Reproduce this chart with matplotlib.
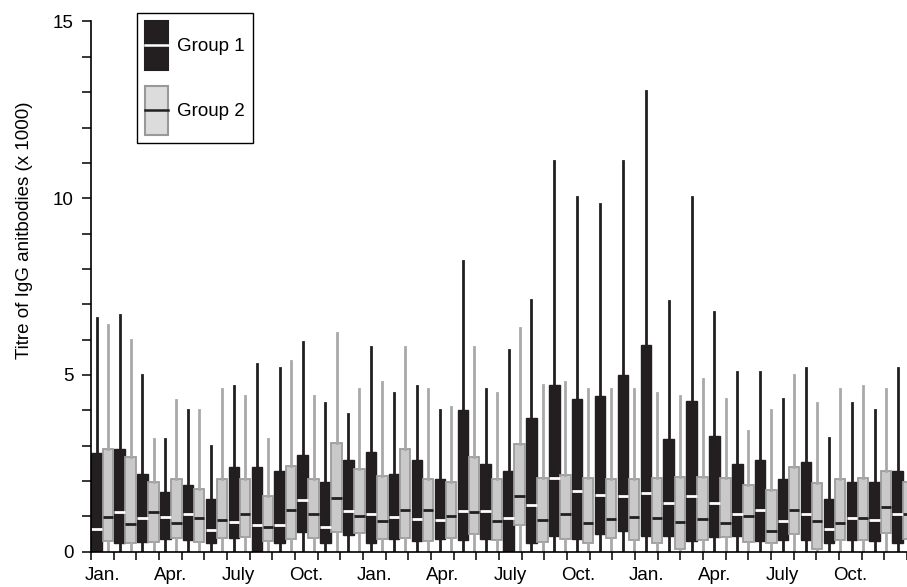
import matplotlib.pyplot as plt
from matplotlib.patches import Rectangle
from matplotlib.lines import Line2D
from matplotlib.legend_handler import HandlerBase
from matplotlib.ticker import MultipleLocator, FixedLocator

plt.rcParams['font.family'] = ['Liberation Sans', 'DejaVu Sans']

month_labels = ['Jan.', 'Apr.', 'July', 'Oct.'] * 3

# Group 1 (black boxes), one value per month, 3 years
g1_hi = [6.62, 6.7, 5.0, 3.2, 4.0, 3.0, 4.7, 5.3, 5.19, 5.92, 4.2, 3.9,
         5.8, 4.48, 4.7, 4.0, 8.23, 4.6, 5.7, 7.12, 11.04, 10.03, 9.83, 11.04,
         13.04, 7.1, 10.03, 6.79, 5.09, 5.09, 4.31, 5.19, 3.21, 4.22, 4.0, 5.19]
g1_q3 = [2.80, 2.92, 2.19, 1.69, 1.9, 1.48, 2.4, 2.4, 2.29, 2.74, 1.98, 2.59,
         2.83, 2.19, 2.59, 2.07, 4.0, 2.48, 2.29, 3.79, 4.72, 4.31, 4.41, 5.0,
         5.85, 3.19, 4.25, 3.28, 2.48, 2.59, 2.05, 2.55, 1.48, 1.98, 1.98, 2.29]
g1_med = [0.64, 1.11, 0.94, 0.97, 1.08, 0.61, 0.83, 0.77, 0.77, 1.46, 0.71, 1.16,
          1.08, 0.97, 0.92, 0.90, 1.16, 1.16, 0.96, 1.32, 2.08, 1.72, 1.60, 1.58,
          1.67, 1.37, 1.58, 1.37, 1.07, 1.18, 0.88, 1.08, 0.64, 0.96, 0.90, 1.08]
g1_q1 = [0.02, 0.25, 0.28, 0.35, 0.33, 0.24, 0.40, 0.0, 0.24, 0.55, 0.26, 0.47,
         0.24, 0.35, 0.30, 0.35, 0.33, 0.35, 0.0, 0.26, 0.44, 0.35, 0.49, 0.58,
         0.45, 0.45, 0.31, 0.41, 0.45, 0.31, 0.33, 0.33, 0.25, 0.33, 0.30, 0.24]

# Group 2 (grey boxes)
g2_hi = [6.4, 6.0, 3.2, 4.3, 4.0, 4.6, 4.4, 3.2, 5.4, 4.4, 6.2, 4.6,
         4.81, 5.8, 4.6, 4.1, 5.8, 4.5, 6.32, 4.72, 4.81, 4.59, 4.59, 4.59,
         4.5, 4.41, 4.9, 4.31, 3.42, 4.0, 5.0, 4.22, 4.59, 4.7, 4.59, 4.22]
g2_q3 = [2.9, 2.69, 1.98, 2.07, 1.77, 2.06, 2.05, 1.58, 2.43, 2.07, 3.08, 2.33,
         2.14, 2.9, 2.06, 1.98, 2.69, 2.06, 3.04, 2.08, 2.17, 2.08, 2.06, 2.06,
         2.08, 2.12, 2.12, 2.08, 1.89, 1.76, 2.39, 1.93, 2.05, 2.09, 2.29, 1.98]
g2_med = [0.97, 0.78, 1.13, 0.80, 0.94, 0.9, 1.08, 0.71, 1.18, 1.08, 1.51, 1.01,
          0.88, 1.18, 1.18, 1.02, 1.11, 0.87, 1.58, 0.90, 1.08, 0.80, 0.92, 0.97,
          0.94, 0.83, 0.92, 0.82, 1.01, 0.59, 1.18, 0.88, 0.80, 0.96, 1.27, 1.08]
g2_q1 = [0.30, 0.25, 0.28, 0.38, 0.28, 0.38, 0.42, 0.30, 0.36, 0.38, 0.55, 0.52,
         0.35, 0.40, 0.30, 0.40, 0.5, 0.33, 0.75, 0.28, 0.35, 0.24, 0.38, 0.33,
         0.25, 0.08, 0.33, 0.41, 0.28, 0.24, 0.49, 0.09, 0.33, 0.33, 0.54, 0.35]

n = len(g1_hi)
pitch = 1.0095
dark = '#231f20'
grey_face = '#c9c9c9'
grey_edge = '#9c9c9c'


def stats(hi, q3, med, q1):
    return [dict(med=m, q1=a, q3=b, whislo=0.0, whishi=h, fliers=[])
            for h, b, m, a in zip(hi, q3, med, q1)]


fig = plt.figure(figsize=(9.07, 5.87), dpi=100)
ax = fig.add_axes([0.1003, 0.0601, 0.8997, 0.9033])

ax.bxp(stats(g1_hi, g1_q3, g1_med, g1_q1),
       positions=[i * pitch + 0.25 for i in range(n)], widths=0.46,
       patch_artist=True, showcaps=False, manage_ticks=False,
       boxprops=dict(facecolor=dark, edgecolor=dark, linewidth=1),
       medianprops=dict(color='white', linewidth=2),
       whiskerprops=dict(color=dark, linewidth=2))
ax.bxp(stats(g2_hi, g2_q3, g2_med, g2_q1),
       positions=[i * pitch + 0.74 for i in range(n)], widths=0.46,
       patch_artist=True, showcaps=False, manage_ticks=False,
       boxprops=dict(facecolor=grey_face, edgecolor=grey_edge, linewidth=1.3),
       medianprops=dict(color=dark, linewidth=2),
       whiskerprops=dict(color='#a9a9a9', linewidth=2))

ax.set_xlim(0, n)
ax.set_ylim(0, 15)
for s in ['top', 'right']:
    ax.spines[s].set_visible(False)
for s in ['left', 'bottom']:
    ax.spines[s].set_linewidth(1.2)

ax.yaxis.set_major_locator(MultipleLocator(5))
ax.yaxis.set_minor_locator(MultipleLocator(1))
ax.tick_params(axis='y', which='both', length=6.5, width=1.1, labelsize=13.5, pad=6)

ax.xaxis.set_major_locator(FixedLocator([i + 0.5 for i in range(0, n, 3)]))
ax.set_xticklabels(month_labels)
ax.xaxis.set_minor_locator(MultipleLocator(1))
ax.tick_params(axis='x', which='major', length=0, labelsize=13.5, pad=11)
ax.tick_params(axis='x', which='minor', length=6, width=1.1)

ax.set_ylabel('Titre of IgG anitbodies (x 1000)', fontsize=13.5)
ax.yaxis.set_label_coords(-0.071, 0.607)


class BoxHandler(HandlerBase):
    def __init__(self, face, edge, line):
        super().__init__()
        self.face, self.edge, self.line = face, edge, line

    def create_artists(self, legend, orig_handle, xdescent, ydescent,
                       width, height, fontsize, trans):
        r = Rectangle((-xdescent, -ydescent), width, height, facecolor=self.face,
                      edgecolor=self.edge, linewidth=1.5, transform=trans)
        y = -ydescent + height / 2
        l = Line2D([-xdescent, -xdescent + width], [y, y], color=self.line,
                   linewidth=1.8, transform=trans)
        return [r, l]


h1 = Rectangle((0, 0), 1, 1)
h2 = Rectangle((0, 0), 1, 1)
leg = ax.legend([h1, h2], ['Group 1', 'Group 2'],
                handler_map={h1: BoxHandler(dark, dark, 'white'),
                             h2: BoxHandler('#dcdcdc', '#999999', dark)},
                loc='upper left', bbox_to_anchor=(0.151, 0.978),
                bbox_transform=fig.transFigure, borderaxespad=0,
                fontsize=13.5, handlelength=1.23, handleheight=3.65,
                labelspacing=0.85, handletextpad=0.5, borderpad=0.42,
                fancybox=False, framealpha=1, edgecolor='black')
leg.get_frame().set_linewidth(1.0)

fig.savefig('out.png', dpi=100)
